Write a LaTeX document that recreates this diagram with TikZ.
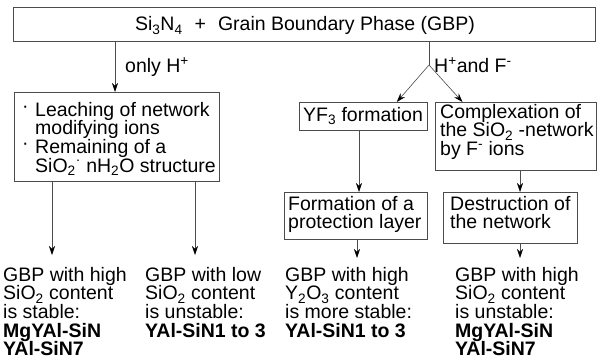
\documentclass[tikz,border=0pt]{standalone}
\usepackage{fontspec}
\setmainfont{Liberation Sans}
\usetikzlibrary{arrows.meta,calc}
\begin{document}
\begin{tikzpicture}[x=1pt,y=-1pt,
  txt/.style={font=\fontsize{19.5}{18.6}\selectfont, inner sep=0pt, align=left, anchor=north west},
  boxx/.style={draw=black!70, line width=0.7pt, inner sep=0pt},
  ln/.style={draw=black!70, line width=0.6pt},
  arr/.style={ln, -{Stealth[length=9pt,width=6pt,inset=3pt,color=black]}}]
\useasboundingbox (0,0) rectangle (598,361);
% top box
\node[boxx, minimum width=582pt, minimum height=34pt, anchor=north west] (top) at (13,7) {};
\node[txt, anchor=base] (toptxt) at (305,31) {Si\textsubscript{3}N\textsubscript{4}\hspace{12pt}+\hspace{12pt}Grain Boundary Phase (GBP)};
% left box
\node[boxx, minimum width=205pt, minimum height=89pt, anchor=north west] (lbox) at (14,92) {};
\node[txt] (ltxt) at (22,102) {\makebox[13pt][l]{\raisebox{4pt}{·}}Leaching of network\\\hspace*{13pt}modifying ions\\\makebox[13pt][l]{\raisebox{4pt}{·}}Remaining of a\\\hspace*{13pt}SiO\textsubscript{2}\textsuperscript{·} nH\textsubscript{2}O structure};
% YF3 box
\node[boxx, minimum width=128pt, minimum height=28pt, anchor=north west] (yf) at (299,102) {};
\node[txt, anchor=center] (yftxt) at (363,116) {YF\textsubscript{3} formation};
% Complexation box
\node[boxx, minimum width=161pt, minimum height=68pt, anchor=north west] (cx) at (435,102) {};
\node[txt] (cxtxt) at (440,104) {Complexation of\\the SiO\textsubscript{2} -network\\by F\textsuperscript{-} ions};
% Formation box
\node[boxx, minimum width=143pt, minimum height=47pt, anchor=north west] (fo) at (284,192) {};
\node[txt] (fotxt) at (288,196) {Formation of a\\protection layer};
% Destruction box
\node[boxx, minimum width=134pt, minimum height=51pt, anchor=north west] (de) at (443,192) {};
\node[txt] (detxt) at (450,196) {Destruction of\\the network};
% bottom texts
\node[txt] (t1) at (3,267) {GBP with high\\SiO\textsubscript{2} content\\is stable:\\\textbf{MgYAl-SiN}\\\textbf{YAl-SiN7}};
\node[txt] (t2) at (145,267) {GBP with low\\SiO\textsubscript{2} content\\is unstable:\\\textbf{YAl-SiN1 to 3}};
\node[txt] (t3) at (285,267) {GBP with high\\Y\textsubscript{2}O\textsubscript{3} content\\is more stable:\\\textbf{YAl-SiN1 to 3}};
\node[txt] (t4) at (455,267) {GBP with high\\SiO\textsubscript{2} content\\is unstable:\\\textbf{MgYAl-SiN}\\\textbf{YAl-SiN7}};
% labels
\node[txt, anchor=base west] (lab1) at (125,73) {only H\textsuperscript{+}};
\node[txt, anchor=base west] (lab2) at (434,73) {H\textsuperscript{+}and F\textsuperscript{-}};
% connectors
\coordinate (c1) at (115,41);
\coordinate (split) at (429,65);
\coordinate (a1) at (52,255);
\coordinate (a2) at (195,255);
\coordinate (a3) at (357,258);
\coordinate (a4) at (520,258);
\draw[arr] (top.south -| c1) -- (lbox.north -| c1);
\draw[ln] (top.south -| split) -- (split);
\draw[arr] (split) -- ($(yf.north west)!0.76!(yf.north east)$);
\draw[arr] (split) -- ($(cx.north west)!0.17!(cx.north east)$);
\draw[arr] (yf.south -| 359,0) -- (fo.north -| 359,0);
\draw[arr] (cx.south -| 520,0) -- (de.north -| 520,0);
\draw[arr] (lbox.south -| a1) -- (a1);
\draw[arr] (lbox.south -| a2) -- (a2);
\draw[arr] (fo.south -| a3) -- (a3);
\draw[arr] (de.south -| a4) -- (a4);
\end{tikzpicture}
\end{document}
